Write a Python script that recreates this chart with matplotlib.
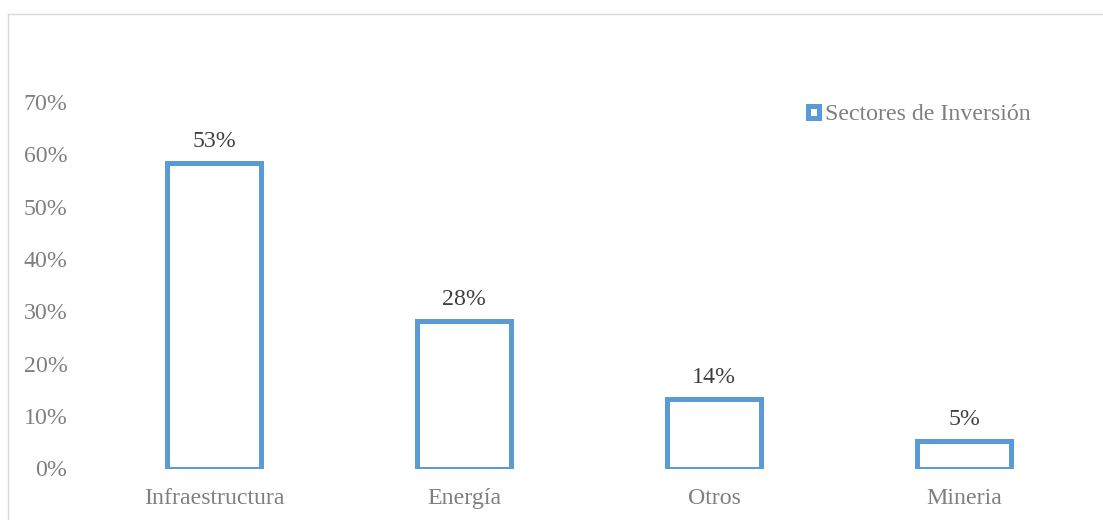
import matplotlib
matplotlib.use('Agg')
import matplotlib.pyplot as plt
from matplotlib.patches import Rectangle
from matplotlib.lines import Line2D

# data
sectores = ['Infraestructura', 'Energía', 'Otros', 'Mineria']
alturas = [0.584, 0.281, 0.133, 0.053]      # bar heights as drawn
etiquetas = ['53%', '28%', '14%', '5%']       # labels as printed
yticks = [0, 0.1, 0.2, 0.3, 0.4, 0.5, 0.6, 0.7]
ytick_labels = ['0%', '10%', '20%', '30%', '40%', '50%', '60%', '70%']

azul = '#5B9BD5'
gris = '#7F7F7F'
fs = 17.2
plt.rcParams['font.family'] = ['Liberation Serif', 'DejaVu Serif']

W, H = 1103, 520
fig = plt.figure(figsize=(W / 100, H / 100), dpi=100)
ax = fig.add_axes([89 / W, 1 - 468.5 / H, 1000 / W, 366.5 / H])

x = list(range(len(sectores)))
ax.bar(x, alturas, width=0.376, facecolor='white', edgecolor=azul, linewidth=3.6)

for xi, h, lab in zip(x, alturas, etiquetas):
    ax.annotate(lab, (xi, h), xytext=(0, 8), textcoords='offset points',
                ha='center', va='bottom', fontsize=fs, color='#404040')

ax.set_xlim(-0.5, len(sectores) - 0.5)
ax.set_ylim(0, 0.7)
ax.set_yticks(yticks)
ax.set_yticklabels(ytick_labels, fontsize=fs, color=gris)
ax.set_xticks(x)
ax.set_xticklabels(sectores, fontsize=fs, color=gris)
ax.tick_params(axis='both', length=0)
ax.tick_params(axis='x', pad=14)
ax.tick_params(axis='y', pad=15.5)
for s in ax.spines.values():
    s.set_visible(False)

# legend
handle = Rectangle((0, 0), 1, 1, facecolor='white', edgecolor=azul, linewidth=3.6)
leg = fig.legend([handle], ['Sectores de Inversión'], loc='center left',
                 bbox_to_anchor=(808 / W, 1 - 115 / H), frameon=False,
                 fontsize=fs, handlelength=0.45, handleheight=0.45,
                 handletextpad=0.25, borderpad=0, borderaxespad=0)
for t in leg.get_texts():
    t.set_color(gris)

# outer chart frame (light gray)
fig.add_artist(Line2D([8 / W, 1], [1 - 14 / H, 1 - 14 / H], color='#D9D9D9', linewidth=1))
fig.add_artist(Line2D([8 / W, 8 / W], [0, 1 - 14 / H], color='#D9D9D9', linewidth=1))

fig.savefig('out.png', dpi=100)
